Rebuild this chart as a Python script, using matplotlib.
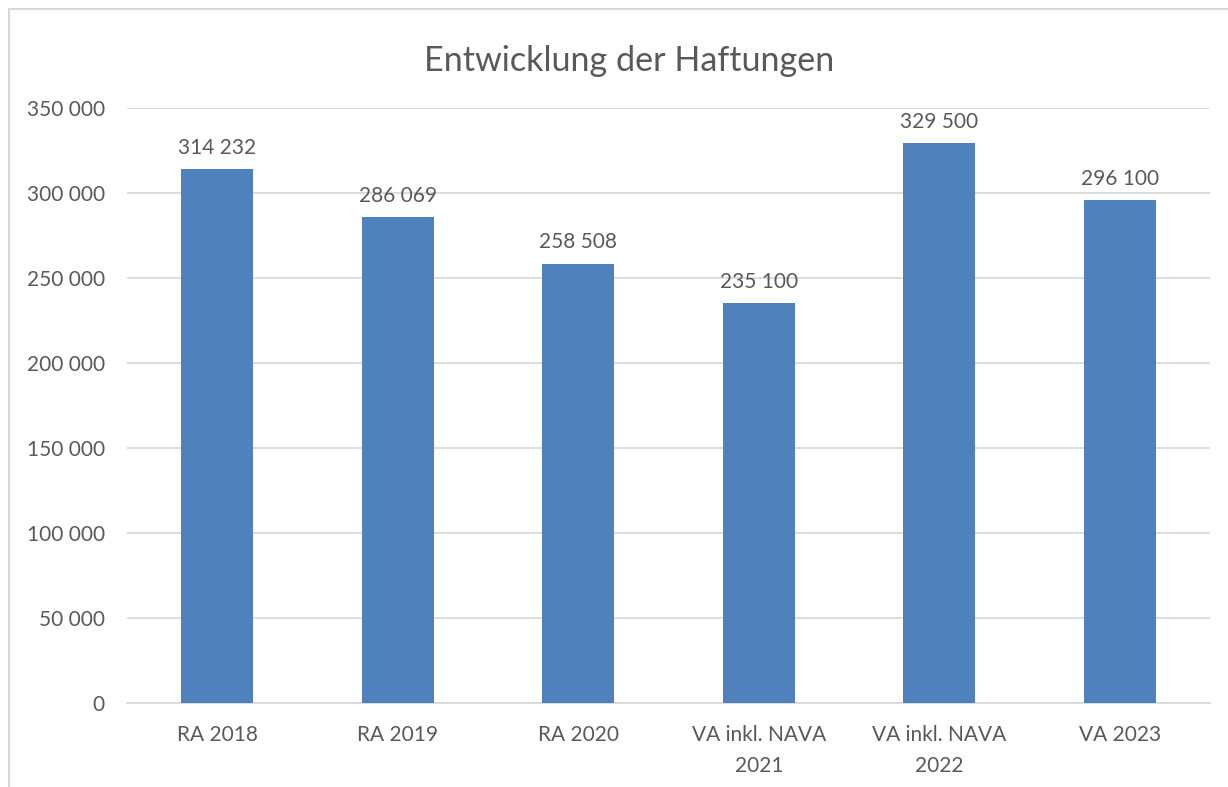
import matplotlib.pyplot as plt
from matplotlib.patches import Rectangle

categories = ['RA 2018', 'RA 2019', 'RA 2020', 'VA inkl. NAVA\n2021', 'VA inkl. NAVA\n2022', 'VA 2023']
values = [314232, 286069, 258508, 235100, 329500, 296100]
yticks = [0, 50000, 100000, 150000, 200000, 250000, 300000, 350000]

def fmt(v):
    return f'{v:,}'.replace(',', ' ')

plt.rcParams['font.family'] = ['Lato', 'DejaVu Sans']
text_col = '#595959'
grid_col = '#D9D9D9'

fig = plt.figure(figsize=(12.28, 7.87), dpi=100)
ax = fig.add_axes([127 / 1228, 1 - 703 / 787, (1210 - 127) / 1228, (703 - 108) / 787])

x = range(len(categories))
bars = ax.bar(x, values, width=0.4, color='#4F81BD', zorder=3)

for b, v in zip(bars, values):
    ax.annotate(fmt(v), (b.get_x() + b.get_width() / 2, v), xytext=(0, 8),
                textcoords='offset points', ha='center', va='bottom',
                fontsize=15, color=text_col)

ax.set_xlim(-0.5, len(categories) - 0.5)
ax.set_ylim(0, 350000)
ax.set_yticks(yticks)
ax.set_yticklabels([fmt(t) for t in yticks])
ax.set_xticks(list(x))
ax.set_xticklabels(categories, linespacing=1.68)
ax.tick_params(axis='both', length=0, labelsize=15, labelcolor=text_col)
ax.tick_params(axis='y', pad=16)
ax.tick_params(axis='x', pad=16)
ax.yaxis.grid(True, color=grid_col, linewidth=1.3, zorder=0)
for s in ['top', 'right', 'left']:
    ax.spines[s].set_visible(False)
ax.spines['bottom'].set_color(grid_col)
ax.spines['bottom'].set_linewidth(1.3)

fig.text(629 / 1228, 1 - 61 / 787, 'Entwicklung der Haftungen', ha='center', va='center',
         fontsize=24.6, color=text_col)

# chart area border (right and bottom edges fall outside the image)
fig.patches.append(Rectangle((9 / 1228, -0.1), 1.2, 1 - 9 / 787 + 0.1, transform=fig.transFigure,
                             fill=False, edgecolor=grid_col, linewidth=1.5))

fig.savefig('out.png', dpi=100)
